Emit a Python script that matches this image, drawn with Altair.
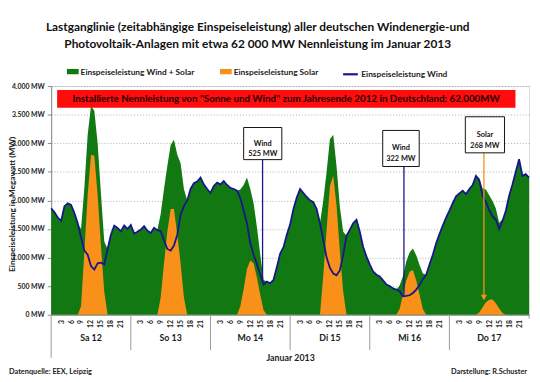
import altair as alt
import pandas as pd

# ---------------- data ----------------
hours = list(range(145))  # 12.01.2013 00:00 ... 18.01.2013 00:00

wind_sa = [1860, 1790, 1700, 1640, 1900, 1950, 1920, 1780, 1600, 1350, 1120, 1050,
           850, 790, 900, 910, 880, 1150, 1400, 1560, 1520, 1460, 1560, 1500]
wind_so = [1570, 1420, 1450, 1490, 1550, 1470, 1430, 1520, 1480, 1460, 1300, 1150,
           1120, 1210, 1400, 1750, 1900, 2000, 2200, 2300, 2330, 2400, 2280, 2200]
wind_mo = [2130, 2250, 2310, 2280, 2340, 2270, 2220, 2200, 2170, 2040, 1820, 1600,
           1250, 1050, 880, 700, 525, 580, 550, 610, 830, 1070, 1180, 1400]
wind_di = [1580, 1850, 2050, 2200, 2130, 2060, 2000, 1970, 1850, 1600, 1300, 1000,
           820, 720, 690, 780, 1050, 1380, 1490, 1600, 1660, 1450, 1190, 1020]
wind_mi = [880, 760, 700, 670, 600, 530, 500, 460, 440, 410, 322, 330,
           340, 380, 440, 520, 620, 700, 880, 1050, 1250, 1410, 1560, 1700]
wind_do = [1820, 1950, 2070, 2120, 2170, 2110, 2200, 2270, 2430, 2350, 2080, 1970,
           1830, 1720, 1660, 1500, 1640, 1820, 2080, 2280, 2500, 2720, 2430, 2460]
wind_end = [2400]

# solar, hours 8..17 of each day
solar_sa = [0, 150, 1100, 2100, 2800, 2780, 2100, 1200, 400, 0]
solar_so = [0, 300, 900, 1450, 1850, 1850, 1400, 900, 300, 0]
solar_mo = [0, 150, 450, 800, 950, 900, 650, 350, 80, 0]
solar_di = [0, 0, 700, 1500, 2250, 2430, 1900, 1100, 400, 0]
solar_mi = [0, 100, 350, 600, 750, 780, 600, 350, 100, 0]
solar_do = [0, 40, 130, 220, 260, 268, 200, 110, 30, 0]

day_centers = [12, 36, 60, 84, 108, 132]
day_labels = ["Sa 12", "So 13", "Mo 14", "Di 15", "Mi 16", "Do 17"]
day_bounds = [24, 48, 72, 96, 120]

y_ticks = [0, 500, 1000, 1500, 2000, 2500, 3000, 3500, 4000]
x_ticks = [h for h in range(145) if h % 3 == 0 and h % 24 != 0]

TITLE_1 = "Lastganglinie (zeitabhängige Einspeiseleistung) aller deutschen Windenergie-und"
TITLE_2 = "Photovoltaik-Anlagen mit etwa 62 000  MW Nennleistung  im Januar 2013"
LAB_TOTAL = "Einspeiseleistung Wind + Solar"
LAB_SOLAR = "Einspeiseleistung Solar"
LAB_WIND = "Einspeiseleistung Wind"
Y_TITLE = "Einspeiseleistung in Megawatt (MW)"

ann_text = ["Wind\n525 MW", "Wind\n322 MW", "Solar\n268 MW"]

# ---------------- tables ----------------
wind = wind_sa + wind_so + wind_mo + wind_di + wind_mi + wind_do + wind_end
solar = []
for d in [solar_sa, solar_so, solar_mo, solar_di, solar_mi, solar_do]:
    solar += [0] * 8 + d + [0] * 6
solar += [0]

df = pd.DataFrame({"h": hours, "wind": wind, "solar": solar})
df["total"] = df["wind"] + df["solar"]

GREEN = "#127812"
ORANGE = "#f8901a"
NAVY = "#16168a"
FONT = "Lato"
W, H = 487, 233

xs = alt.Scale(domain=[0, 144], nice=False, zero=False)
ys = alt.Scale(domain=[0, 4000], nice=False)

x_axis = alt.Axis(
    values=x_ticks, labelExpr="datum.value % 24", labelAngle=270,
    labelOverlap=False,
    labelFont=FONT, labelFontSize=7, labelFontWeight="bold", labelColor="#222",
    labelPadding=5, ticks=False, grid=False, domainColor="#888",
    title="Januar 2013", titleFont=FONT, titleFontSize=9, titleFontWeight="bold",
    titleColor="#222", titlePadding=27)

y_axis = alt.Axis(
    values=y_ticks, labelOverlap=False,
    labelExpr="replace(format(datum.value, ','), ',', '.') + ' MW'",
    labelFont=FONT, labelFontSize=7, labelFontWeight="bold", labelColor="#222",
    tickSize=4, tickColor="#888", domainColor="#888", labelPadding=3,
    grid=True, gridColor="#9a9a9a", gridDash=[1, 2], gridWidth=0.8,
    title=None)


def X(field):
    return alt.X(field, type="quantitative", scale=xs, axis=x_axis)


def Y(field):
    return alt.Y(field, type="quantitative", scale=ys, axis=y_axis)


def X2(field):
    return alt.X2(field)


def Y2(field):
    return alt.Y2(field)


fill_scale = alt.Scale(domain=[LAB_TOTAL, LAB_SOLAR], range=[GREEN, ORANGE])
fill_legend = alt.Legend(
    orient="none", legendX=16, legendY=-21, direction="horizontal", columns=2,
    title=None, symbolType="M-1,-0.45H1V0.45H-1Z", symbolSize=144,
    symbolStrokeWidth=0, symbolOpacity=1, labelFont=FONT, labelFontSize=8.5,
    labelFontWeight="bold", labelColor="#222", columnPadding=25, labelOffset=2)
stroke_scale = alt.Scale(domain=[LAB_WIND], range=[NAVY])
stroke_legend = alt.Legend(
    orient="none", legendX=296, legendY=-21, direction="horizontal",
    title=None, symbolType="stroke", symbolSize=225, symbolStrokeWidth=2.2,
    labelFont=FONT, labelFontSize=8.5, labelFontWeight="bold", labelColor="#222",
    labelOffset=2)

base = alt.Chart(df)

area_total = base.transform_calculate(series=f"'{LAB_TOTAL}'").mark_area(
    opacity=1).encode(
    x=X("h"), y=Y("total"),
    fill=alt.Fill("series:N", scale=fill_scale, legend=fill_legend))

area_solar = base.transform_calculate(series=f"'{LAB_SOLAR}'").mark_area(
    opacity=1).encode(
    x=X("h"), y=Y("solar"),
    fill=alt.Fill("series:N", scale=fill_scale, legend=fill_legend))

line_wind = base.transform_calculate(series=f"'{LAB_WIND}'").mark_line(
    strokeWidth=1.8).encode(
    x=X("h"), y=Y("wind"),
    stroke=alt.Stroke("series:N", scale=stroke_scale, legend=stroke_legend))

# banner
banner_df = pd.DataFrame({"x1": [1.8], "x2": [139.9], "y1": [3620], "y2": [3930],
                          "xc": [70.8], "yc": [3770],
                          "t": ['Installierte Nennleistung von "Sonne und Wind" zum Jahresende 2012 in Deutschland:  62.000MW']})
banner = alt.Chart(banner_df).mark_rect(color="#ff0c0c").encode(
    x=X("x1"), x2=X2("x2"), y=Y("y1"), y2=Y2("y2"))
banner_text = alt.Chart(banner_df).mark_text(
    font=FONT, fontSize=10, fontWeight="bold", color="#220000").encode(
    x=X("xc"), y=Y("yc"), text="t:N")

# annotation boxes
ann_df = pd.DataFrame({
    "x1": [58.0, 99.9, 124.8], "x2": [69.5, 110.9, 136.6],
    "y1": [2713, 2593, 2832], "y2": [3275, 3224, 3463],
    "xc": [63.75, 105.4, 130.7], "yc": [2994, 2908, 3147],
    "lx": [63.7, 106.3, 130.4], "ly1": [2713, 2593, 2832], "ly2": [560, 330, 300],
    "kind": ["w", "w", "s"], "t": ann_text})
ann_lines_w = alt.Chart(ann_df).transform_filter("datum.kind == 'w'").mark_rule(
    color=NAVY, strokeWidth=1.3).encode(x=X("lx"), y=Y("ly1"), y2=Y2("ly2"))
ann_lines_s = alt.Chart(ann_df).transform_filter("datum.kind == 's'").mark_rule(
    color=ORANGE, strokeWidth=1.3).encode(x=X("lx"), y=Y("ly1"), y2=Y2("ly2"))
ann_arrow = alt.Chart(ann_df).transform_filter("datum.kind == 's'").mark_point(
    shape="triangle-down", filled=True, color=ORANGE, size=40, opacity=1).encode(
    x=X("lx"), y=Y("ly2"))
ann_boxes = alt.Chart(ann_df).mark_rect(
    fill="white", stroke="#111", strokeWidth=1).encode(
    x=X("x1"), x2=X2("x2"), y=Y("y1"), y2=Y2("y2"))
ann_texts = alt.Chart(ann_df).mark_text(
    font=FONT, fontSize=7.5, fontWeight="bold", color="#111", lineBreak="\n",
    lineHeight=11).encode(x=X("xc"), y=Y("yc"), text="t:N")

# day separators and labels under the axis
sep_df = pd.DataFrame({"h": day_bounds})
seps = alt.Chart(sep_df).mark_rule(color="#999", strokeWidth=1).encode(
    x=X("h"), y=alt.value(H), y2=alt.value(H + 36))
left_df = pd.DataFrame({"h": [0]})
left_sep = alt.Chart(left_df).mark_rule(color="#999", strokeWidth=1).encode(
    x=X("h"), y=alt.value(H), y2=alt.value(H + 44))
right_df = pd.DataFrame({"h": [144]})
right_sep = alt.Chart(right_df).mark_rule(color="#999", strokeWidth=1).encode(
    x=X("h"), y=alt.value(H), y2=alt.value(H + 4))
day_df = pd.DataFrame({"h": day_centers, "t": day_labels})
days = alt.Chart(day_df).mark_text(
    font=FONT, fontSize=9, fontWeight="bold", color="#222").encode(
    x=X("h"), y=alt.value(H + 24), text="t:N")

# chart title (two lines) and y-axis title
title_1 = alt.Chart(pd.DataFrame({"t": [TITLE_1]})).mark_text(
    font=FONT, fontSize=12.1, fontWeight="bold", color="#111",
    align="center", baseline="middle").encode(
    x=alt.value(W / 2 - 33), y=alt.value(-60), text="t:N")
title_2 = alt.Chart(pd.DataFrame({"t": [TITLE_2]})).mark_text(
    font=FONT, fontSize=12.1, fontWeight="bold", color="#111",
    align="center", baseline="middle").encode(
    x=alt.value(W / 2 - 33), y=alt.value(-43), text="t:N")
y_title = alt.Chart(pd.DataFrame({"t": [Y_TITLE]})).mark_text(
    font=FONT, fontSize=8.5, fontWeight="bold", color="#222", angle=270,
    align="center", baseline="middle").encode(
    x=alt.value(-40), y=alt.value(H / 2 + 4), text="t:N")

foot_l = alt.Chart(pd.DataFrame({"t": ["Datenquelle: EEX, Leipzig"]})).mark_text(
    font=FONT, fontSize=7.5, fontWeight="bold", color="#222", align="left").encode(
    x=alt.value(-43), y=alt.value(H + 58), text="t:N")
foot_r = alt.Chart(pd.DataFrame({"t": ["Darstellung: R.Schuster"]})).mark_text(
    font=FONT, fontSize=7.5, fontWeight="bold", color="#222", align="right").encode(
    x=alt.value(485), y=alt.value(H + 58), text="t:N")

chart = alt.layer(
    area_total, area_solar, line_wind,
    banner, banner_text,
    ann_lines_w, ann_lines_s, ann_arrow, ann_boxes, ann_texts,
    seps, left_sep, right_sep, days, title_1, title_2, y_title, foot_l, foot_r,
).resolve_scale(fill="shared").properties(
    width=W, height=H,
    autosize=alt.AutoSizeParams(type="none"),
    padding={"left": 44, "top": 76, "right": 3, "bottom": 64},
).configure_view(stroke=None).configure_axis(labelOverlap=False).configure(
    font=FONT, background="white")

chart.save("out.html", embed_options={"renderer": "svg", "actions": False})
